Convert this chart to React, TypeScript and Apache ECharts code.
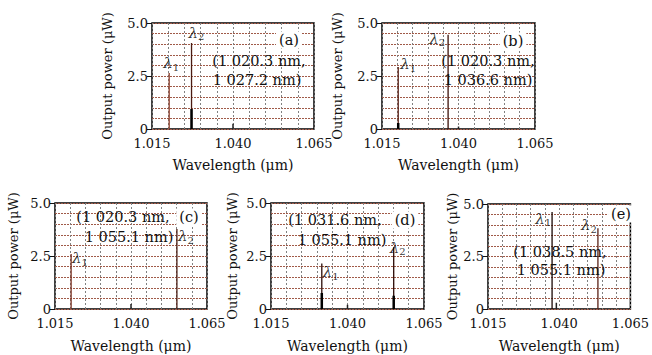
import React, { useEffect, useRef } from "react";
import * as echarts from "echarts";

// ---- data ----
const panelNames = ["(a)", "(b)", "(c)", "(d)", "(e)"];
const lambda1Text = ["(1 020.3 nm,", "(1 020.3 nm,", "(1 020.3 nm,", "(1 031.6 nm,", "(1 038.5 nm,"];
const lambda2Text = ["1 027.2 nm)", "1 036.6 nm)", "1 055.1 nm)", "1 055.1 nm)", "1 055.1 nm)"];
const lambda1 = [1.0203, 1.0203, 1.0203, 1.0316, 1.0375]; // µm
const lambda2 = [1.0272, 1.0366, 1.0551, 1.0551, 1.0536]; // µm
const power1 = [2.64, 2.92, 2.59, 2.15, 4.62]; // µW
const power2 = [4.06, 4.45, 3.77, 2.9, 3.85]; // µW
const base1 = [0, 0.28, 0, 0.76, 0]; // dense lower part of λ1 line
const base2 = [0.94, 0, 0, 0.63, 0]; // dense lower part of λ2 line
const bumpPos = [1.04, 1.04, 1.04, 1.04, 1.039];
const bumpPower = [0.25, 0.12, 0.24, 0.2, 0.3];
const xTicks = [1.015, 1.04, 1.065];
const yTicks = [0, 2.5, 5.0];
const xName = "Wavelength (\u03bcm)";
const yName = "Output power (\u03bcW)";

// ---- layout (pixels) ----
const grids = [
  { left: 152, top: 23, width: 162, height: 106 },
  { left: 382, top: 23, width: 153, height: 106 },
  { left: 55, top: 203, width: 152, height: 106 },
  { left: 271, top: 203, width: 153, height: 106 },
  { left: 488, top: 204, width: 151, height: 105 },
];
const yNameGap = [38, 38, 35, 32, 29];
const xNameGap = [29, 29, 30, 30, 30];
const xLabelMargin = [8, 8, 8, 8, 8];
const color1 = ["#8a3b28", "#5a2015", "#7a3020", "#2a0a05", "#1a0805"];
const color2 = ["#4a1a10", "#3a1008", "#4a1a10", "#2a0a05", "#5a2015"];
const lab1 = [
  { position: "top", distance: 1, offset: [2, 0] },
  { position: "right", distance: 2, offset: [0, -3] },
  { position: "right", distance: 1, offset: [0, 4] },
  { position: "right", distance: 1, offset: [0, 9] },
  { position: "left", distance: 1, offset: [0, 7] },
];
const lab2 = [
  { position: "top", distance: 1, offset: [5, 0] },
  { position: "left", distance: 3, offset: [0, 4] },
  { position: "right", distance: 1, offset: [0, 7] },
  { position: "right", distance: 0, offset: [-4, 0] },
  { position: "left", distance: 1, offset: [0, -3] },
];
// annotation placement: [panelLabel x,y], [line1 x,y], [line2 x,y]
const annot = [
  { p: [289, 40], l1: [259, 61], l2: [257, 80] },
  { p: [513, 41], l1: [488, 61], l2: [488, 80] },
  { p: [189, 217], l1: [123, 217], l2: [129, 237] },
  { p: [405, 220], l1: [335, 220], l2: [342, 240] },
  { p: [621, 214], l1: [560, 252], l2: [561, 270] },
];

const FONT = "'DejaVu Serif', 'Liberation Serif', serif";

export default function App() {
  const ref = useRef<HTMLDivElement>(null);
  useEffect(() => {
    if (!ref.current) return;
    const chart = echarts.init(ref.current, undefined, { renderer: "svg" });
    const xAxis: any[] = [];
    const yAxis: any[] = [];
    const series: any[] = [];
    const graphic: any[] = [];
    const rich = {
      l: { fontFamily: FONT, fontStyle: "italic", fontSize: 15, color: "#000", lineHeight: 18 },
      s: { fontFamily: FONT, fontSize: 10, color: "#000", verticalAlign: "bottom", lineHeight: 18, padding: [6, 0, 0, 0] },
    };
    const nameRichX = { n: { fontFamily: FONT, fontSize: 14, color: "#111" } };
    const nameRichY = { n: { fontFamily: FONT, fontSize: 13, color: "#111" } };
    const tickRich = { t: { fontFamily: FONT, fontSize: 13, color: "#111" } };
    grids.forEach((g, i) => {
      xAxis.push({
        gridIndex: i,
        type: "value",
        min: xTicks[0],
        max: xTicks[2],
        interval: 0.005,
        name: `{n|${xName}}`,
        nameLocation: "middle",
        nameGap: xNameGap[i],
        nameTextStyle: { fontFamily: FONT, fontSize: 14, color: "#111", rich: nameRichX },
        axisLine: { show: false },
        axisTick: { show: false },
        axisLabel: {
          fontFamily: FONT,
          fontSize: 13,
          color: "#111",
          margin: xLabelMargin[i],
          showMinLabel: true,
          showMaxLabel: true,
          hideOverlap: false,
          rich: tickRich,
          formatter: (v: number) => {
            const hit = xTicks.find((t) => Math.abs(t - v) < 1e-6);
            return hit !== undefined ? `{t|${hit.toFixed(3)}}` : "";
          },
        },
        splitLine: { show: true, lineStyle: { color: "#808080", type: [2, 2], width: 1 } },
      });
      yAxis.push({
        gridIndex: i,
        type: "value",
        min: 0,
        max: 5,
        interval: 2.5,
        name: `{n|${yName}}`,
        nameLocation: "middle",
        nameGap: yNameGap[i],
        nameTextStyle: { fontFamily: FONT, fontSize: 13, color: "#111", rich: nameRichY },
        axisLine: { show: false },
        axisTick: { show: true, inside: false, length: 5, lineStyle: { color: "#111", width: 1 } },
        axisLabel: {
          fontFamily: FONT,
          fontSize: 13,
          color: "#111",
          margin: 4,
          rich: tickRich,
          formatter: (v: number) => {
            const hit = yTicks.find((t) => Math.abs(t - v) < 1e-6);
            if (hit === undefined) return "";
            return `{t|${hit === 0 ? "0" : hit.toFixed(1)}}`;
          },
        },
        minorTick: { show: false, splitNumber: 5 },
        splitLine: { show: true, lineStyle: { color: "#a05a48", type: [2, 1], width: 1 } },
        minorSplitLine: { show: true, lineStyle: { color: "#a05a48", type: [2, 1], width: 1 } },
      });
      const common = {
        type: "line",
        xAxisIndex: i,
        yAxisIndex: i,
        symbol: "none",
        silent: true,
        z: 3,
      };
      series.push({ ...common, data: [[lambda1[i], 0], [lambda1[i], power1[i]]], lineStyle: { color: color1[i], width: 1.3 } });
      series.push({ ...common, data: [[lambda2[i], 0], [lambda2[i], power2[i]]], lineStyle: { color: color2[i], width: 1.3 } });
      if (base1[i] > 0)
        series.push({ ...common, data: [[lambda1[i], 0], [lambda1[i], base1[i]]], lineStyle: { color: "#000", width: 2.5 } });
      if (base2[i] > 0)
        series.push({ ...common, data: [[lambda2[i], 0], [lambda2[i], base2[i]]], lineStyle: { color: "#000", width: 2.5 } });
      series.push({ ...common, data: [[bumpPos[i], 0], [bumpPos[i], bumpPower[i]]], lineStyle: { color: "#222", width: 1.5 } });
      series.push({
        type: "scatter",
        xAxisIndex: i,
        yAxisIndex: i,
        symbolSize: 0,
        silent: true,
        z: 5,
        data: [
          { value: [lambda1[i], power1[i]], label: { show: true, formatter: "{l|\u03bb}{s|1}", rich, ...lab1[i] } },
          { value: [lambda2[i], power2[i]], label: { show: true, formatter: "{l|\u03bb}{s|2}", rich, ...lab2[i] } },
        ],
      });
      const a = annot[i];
      const ts = { fontFamily: FONT, fontSize: 14.5, fill: "#111", textAlign: "center", textVerticalAlign: "middle" };
      graphic.push({
        type: "text",
        x: a.p[0],
        y: a.p[1],
        z: 10,
        style: { ...ts, text: panelNames[i], backgroundColor: "#fff", padding: [1, 3, 1, 3] },
      });
      graphic.push({ type: "text", x: a.l1[0], y: a.l1[1], z: 10, style: { ...ts, text: lambda1Text[i] } });
      graphic.push({ type: "text", x: a.l2[0], y: a.l2[1], z: 10, style: { ...ts, text: lambda2Text[i] } });
    });

    chart.setOption({
      animation: false,
      backgroundColor: "#fff",
      textStyle: { fontFamily: FONT },
      grid: grids.map((g) => ({ ...g, show: true, borderColor: "#000", borderWidth: 1.5, backgroundColor: "transparent", containLabel: false })),
      xAxis,
      yAxis,
      series,
      graphic,
    });
    return () => chart.dispose();
  }, []);
  return <div ref={ref} style={{ position: "absolute", left: 0, top: 0, width: 652, height: 355 }} />;
}
